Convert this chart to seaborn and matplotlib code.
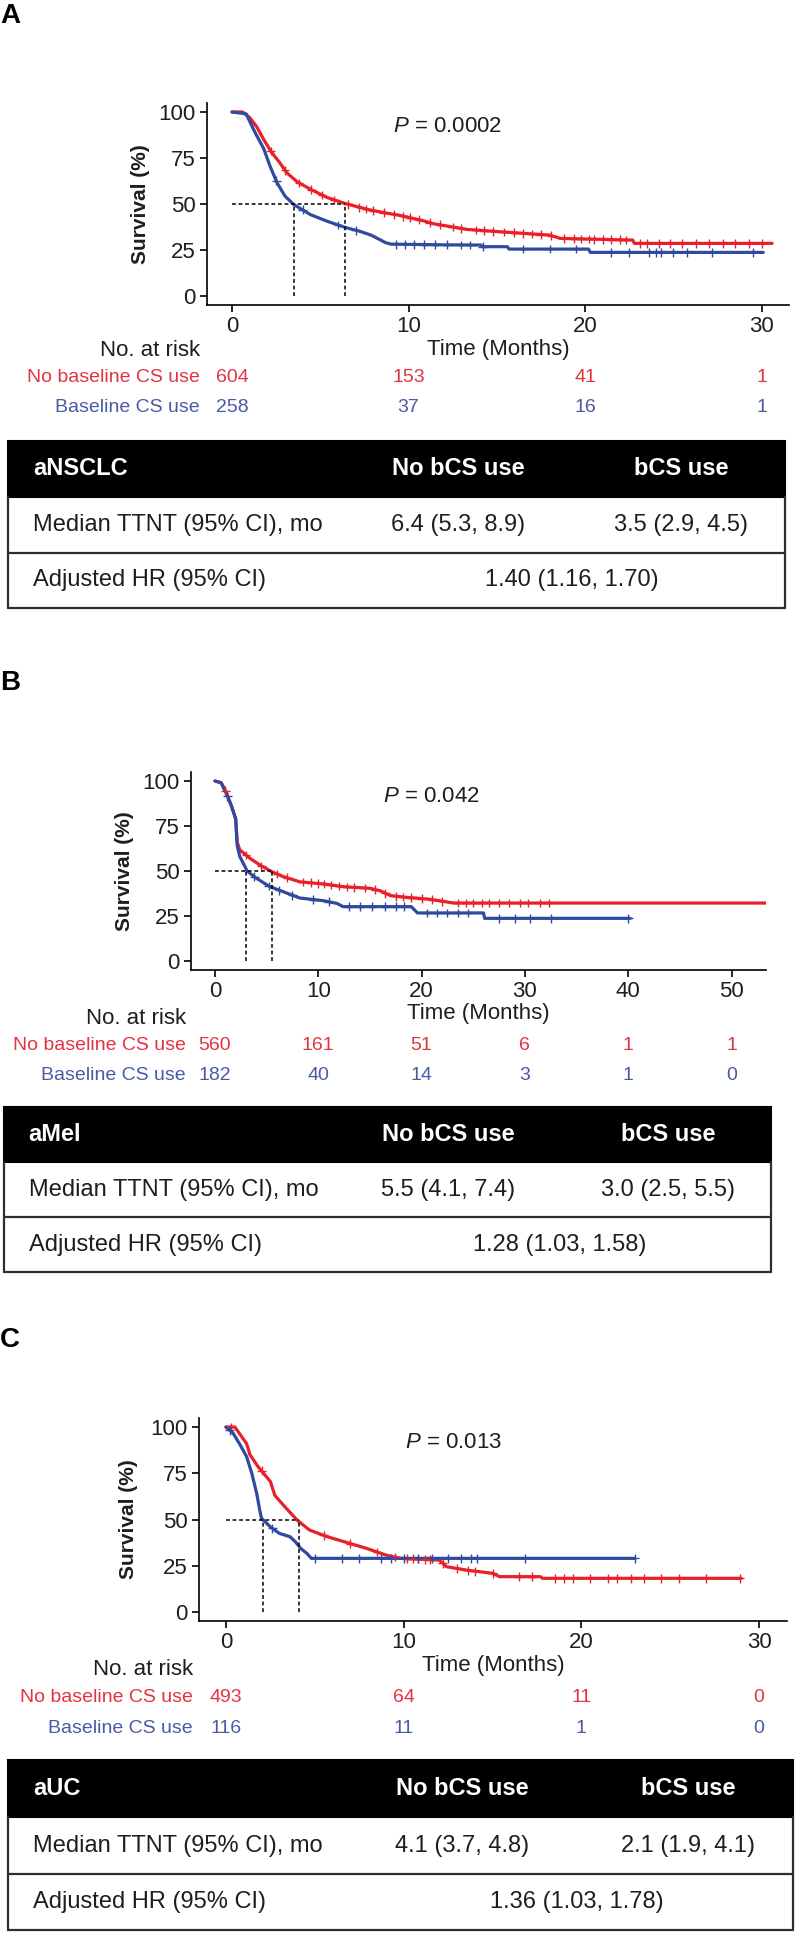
import numpy as np
import pandas as pd
import matplotlib
matplotlib.use("Agg")
import matplotlib.pyplot as plt
import matplotlib.transforms as mtransforms
from matplotlib.patches import Rectangle
import seaborn as sns

# ---------------- data ----------------
groups = ["No baseline CS use", "Baseline CS use"]

# Panel A - aNSCLC
a_red_t = [0, 0.6, 1.0, 1.4, 1.8, 2.25, 2.7, 3.1, 3.7, 4.45, 5.4, 6.4, 7.7, 8.8, 9.5,
           10.8, 11.4, 13.3, 15.2, 18.0, 18.6, 22.7, 22.8, 30.6]
a_red_s = [100, 100, 97, 92, 85, 78, 72.5, 67, 62, 58, 53.5, 50.3, 47, 45, 43.8,
           41, 39.3, 36.2, 34.9, 33.1, 31.3, 30.4, 28.6, 28.6]
a_blue_t = [0, 0.8, 1.3, 1.8, 2.15, 2.55, 3.0, 3.5, 4.45, 5.4, 6.4, 7.3, 7.9, 8.7, 9.0,
            12.0, 14.1, 14.2, 15.6, 15.7, 20.2, 20.3, 30.1]
a_blue_s = [100, 99, 89, 80, 70.7, 61.6, 54.3, 49.7, 44.2, 40.6, 37.3, 35, 33, 29, 28.2,
            27.8, 27.7, 26.8, 26.8, 25.5, 25.5, 23.7, 23.7]
a_red_cens = [2.2, 3.0, 3.8, 4.5, 5.1, 5.8, 6.6, 7.2, 7.6, 8.0, 8.6, 9.2, 9.7, 10.1, 10.6,
              11.2, 11.8, 12.5, 13.0, 13.8, 14.3, 14.8, 15.4, 16.0, 16.5, 17.0, 17.5, 18.1,
              18.8, 19.4, 19.8, 20.2, 20.5, 21.0, 21.5, 22.0, 22.3, 23.1, 23.5, 24.2, 24.8,
              25.5, 26.3, 27.0, 27.8, 28.5, 29.3, 30.0]
a_blue_cens = [2.5, 4.0, 6.0, 7.0, 9.3, 9.8, 10.3, 10.9, 11.5, 12.2, 13.0, 13.5, 14.2,
               16.5, 18.0, 19.5, 21.5, 22.5, 23.6, 24.0, 24.3, 25.0, 25.8, 27.2, 29.5]
a_median = [6.4, 3.5]
a_ticks = [0, 10, 20, 30]
a_risk_red = [604, 153, 41, 1]
a_risk_blue = [258, 37, 16, 1]
a_pval = "0.0002"

# Panel B - aMel
b_red_t = [0, 0.6, 1.1, 1.6, 2.0, 2.15, 2.4, 3.4, 4.35, 5.5, 6.6, 8.2, 10.5, 12.4, 15.0,
           16.0, 17.0, 18.5, 20.8, 23.1, 53.3]
b_red_s = [100, 99, 93.5, 86, 79, 66, 61.7, 57, 53.3, 49.6, 46.9, 44, 42.8, 41.3, 40.4,
           39, 36.3, 35.4, 34.3, 32.2, 32.2]
b_blue_t = [0, 0.6, 1.1, 1.6, 2.0, 2.15, 2.4, 2.9, 3.1, 4.0, 5.3, 6.6, 8.2, 10.5, 11.8,
            12.4, 19.0, 19.6, 26.0, 26.1, 40.2]
b_blue_s = [100, 99, 93, 86, 79, 64, 58, 52.5, 50, 46, 41.3, 38.5, 35, 33.5, 32,
            30.2, 30.2, 26.7, 26.7, 23.7, 23.7]
b_red_cens = [1.0, 3.0, 4.5, 6.0, 7.0, 8.5, 9.3, 10, 10.6, 11.2, 12, 12.8, 13.5, 14.5,
              15.5, 16.5, 17.5, 18.2, 19, 20, 21, 22, 23.5, 24.3, 25, 25.8, 26.5, 27.5,
              28.5, 29.5, 30.3, 31.5, 32.3]
b_blue_cens = [1.2, 3.8, 5.2, 6.2, 7.5, 9.5, 11, 13, 14, 15.2, 16.5, 17.5, 18.3, 20.5,
               21.5, 22.5, 23.5, 24.5, 27.5, 29, 30.5, 32.5, 40.0]
b_median = [5.5, 3.0]
b_ticks = [0, 10, 20, 30, 40, 50]
b_risk_red = [560, 161, 51, 6, 1, 1]
b_risk_blue = [182, 40, 14, 3, 1, 0]
b_pval = "0.042"

# Panel C - aUC
c_red_t = [0, 0.5, 1.16, 1.35, 1.8, 2.5, 2.75, 3.3, 4.0, 4.7, 5.7, 7.0, 7.9, 9.0, 9.8,
           12.0, 12.4, 13.5, 15.0, 15.4, 17.7, 17.8, 29.0]
c_red_s = [100, 100, 91, 85, 78.6, 70.5, 63, 57, 49.7, 44.3, 40.7, 37, 34.4, 30.8, 29,
           28.1, 24.5, 22.7, 20.9, 19.1, 19.1, 18.2, 18.2]
c_blue_t = [0, 0.4, 0.8, 1.16, 1.45, 1.73, 1.9, 2.0, 2.5, 3.0, 3.6, 3.9, 4.2, 4.55, 4.8, 23.0]
c_blue_s = [100, 96.6, 90.3, 84, 75, 64, 55, 50.6, 46, 42.5, 40.7, 38, 34.4, 31.7, 29, 29]
c_red_cens = [0.3, 2.0, 5.5, 7.0, 8.5, 9.5, 10.2, 10.5, 10.8, 11.2, 11.5, 12.2, 13.0, 13.6,
              14.0, 15.0, 16.5, 17.2, 18.5, 19.0, 19.5, 20.5, 21.5, 22.0, 22.8, 23.5, 24.5,
              25.5, 27.0, 28.9]
c_blue_cens = [0.2, 2.6, 5.0, 6.5, 7.5, 8.7, 9.3, 10.0, 10.8, 11.6, 12.5, 13.2, 13.8,
               14.1, 16.8, 23.0]
c_median = [4.1, 2.1]
c_ticks = [0, 10, 20, 30]
c_risk_red = [493, 64, 11, 0]
c_risk_blue = [116, 11, 1, 0]
c_pval = "0.013"

# summary tables
tab_names = ["aNSCLC", "aMel", "aUC"]
tab_no_bcs = ["6.4 (5.3, 8.9)", "5.5 (4.1, 7.4)", "4.1 (3.7, 4.8)"]
tab_bcs = ["3.5 (2.9, 4.5)", "3.0 (2.5, 5.5)", "2.1 (1.9, 4.1)"]
tab_hr = ["1.40 (1.16, 1.70)", "1.28 (1.03, 1.58)", "1.36 (1.03, 1.78)"]

RED = "#E8202A"
BLUE = "#2F4A9E"
RED_TXT = "#E23440"
BLUE_TXT = "#4A5AA6"
INK = "#1E1E1E"

sns.set_theme(style="ticks")
plt.rcParams["font.family"] = ["Liberation Sans", "DejaVu Sans"]
plt.rcParams["mathtext.fontset"] = "custom"
plt.rcParams["mathtext.it"] = "Liberation Sans:italic"
plt.rcParams["mathtext.rm"] = "Liberation Sans"

W, H = 800, 1935
fig = plt.figure(figsize=(W / 100, H / 100), dpi=100)


def ftext(px, py, s, **kw):
    return fig.text(px / W, 1 - py / H, s, **kw)


def km_panel(lay, red_t, red_s, blue_t, blue_s, red_c, blue_c, med, ticks,
             risk_red, risk_blue, pval, letter):
    x0, ppm, left, right, y0, ppp = lay["x0"], lay["ppm"], lay["left"], lay["right"], lay["y0"], lay["ppp"]
    top = y0 - 105 * ppp
    bottom = y0 + 5 * ppp
    ax = fig.add_axes([left / W, 1 - bottom / H, (right - left) / W, (bottom - top) / H])

    curves = pd.concat([
        pd.DataFrame({"time": red_t, "surv": red_s, "group": groups[0]}),
        pd.DataFrame({"time": blue_t, "surv": blue_s, "group": groups[1]}),
    ])
    sns.lineplot(data=curves, x="time", y="surv", hue="group", palette=[RED, BLUE],
                 estimator=None, sort=False, lw=2.3, legend=False, ax=ax)

    # censoring marks sit on the curves
    cens = pd.concat([
        pd.DataFrame({"time": red_c, "surv": np.interp(red_c, red_t, red_s), "group": groups[0]}),
        pd.DataFrame({"time": blue_c, "surv": np.interp(blue_c, blue_t, blue_s), "group": groups[1]}),
    ])
    sns.scatterplot(data=cens, x="time", y="surv", hue="group", palette=[RED, BLUE],
                    marker="+", s=40, linewidth=1.0, legend=False, ax=ax, zorder=3)

    # median lines
    ax.plot([0, max(med)], [50, 50], color="black", lw=1.1, ls=(0, (2.5, 1.8)), zorder=4)
    for m in med:
        ax.plot([m, m], [0, 50], color="black", lw=1.1, ls=(0, (2.5, 1.8)), zorder=4)

    ax.set_xlim((left - x0) / ppm, (right - x0) / ppm)
    ax.set_ylim(-5, 105)
    ax.set_xticks(ticks)
    ax.set_yticks([0, 25, 50, 75, 100])
    ax.set_xlabel("")
    ax.set_ylabel("")
    for side in ["top", "right"]:
        ax.spines[side].set_visible(False)
    for side in ["left", "bottom"]:
        ax.spines[side].set_linewidth(1.2)
        ax.spines[side].set_color("black")
    ax.tick_params(direction="out", length=5, width=1.2, color="black",
                   labelsize=16, labelcolor=INK, pad=3)

    ftext(lay["lab_x"], (top + bottom) / 2, "Survival (%)", rotation=90, ha="center",
          va="center", fontsize=15, fontweight="bold", color=INK)
    ftext((left + right) / 2, lay["xlab_y"], "Time (Months)", ha="center", va="center",
          fontsize=16, color=INK)
    ftext(lay["p_x"], lay["p_y"], r"$P$ = " + pval, ha="left", va="center",
          fontsize=16, color=INK)
    ftext(0, lay["let_y"], letter, ha="left", va="center", fontsize=20,
          fontweight="bold", color="black")

    # number at risk
    ftext(lay["risk_x"], lay["risk_y"][0], "No. at risk", ha="right", va="center",
          fontsize=16, color=INK)
    ftext(lay["risk_x"], lay["risk_y"][1], groups[0], ha="right", va="center",
          fontsize=14, color=RED_TXT)
    ftext(lay["risk_x"], lay["risk_y"][2], groups[1], ha="right", va="center",
          fontsize=14, color=BLUE_TXT)
    trans = mtransforms.blended_transform_factory(ax.transData, fig.transFigure)
    for t, nr, nb in zip(ticks, risk_red, risk_blue):
        ax.text(t, 1 - lay["risk_y"][1] / H, str(nr), transform=trans, ha="center",
                va="center", fontsize=14, color=RED_TXT, clip_on=False)
        ax.text(t, 1 - lay["risk_y"][2] / H, str(nb), transform=trans, ha="center",
                va="center", fontsize=14, color=BLUE_TXT, clip_on=False)
    return ax


def summary_table(x_l, x_r, ys, name, no_val, b_val, hr_val):
    tax = fig.add_axes([x_l / W, 1 - ys[3] / H, (x_r - x_l) / W, (ys[3] - ys[0]) / H])
    tax.set_xlim(0, 1)
    tax.set_ylim(ys[3], ys[0])
    tax.axis("off")
    tax.add_patch(Rectangle((0, ys[0]), 1, ys[1] - ys[0], facecolor="black",
                            edgecolor="black", lw=1.5, clip_on=False))
    lc = "#2E2E2E"
    tax.plot([0, 0], [ys[1], ys[3]], color=lc, lw=1.6, clip_on=False)
    tax.plot([1, 1], [ys[1], ys[3]], color=lc, lw=1.6, clip_on=False)
    tax.plot([0, 1], [ys[2], ys[2]], color=lc, lw=1.6, clip_on=False)
    tax.plot([0, 1], [ys[3], ys[3]], color=lc, lw=1.6, clip_on=False)
    cy = [(ys[0] + ys[1]) / 2, (ys[1] + ys[2]) / 2, (ys[2] + ys[3]) / 2]
    fs = 17
    tax.text(0.032, cy[0], name, ha="left", va="center", fontsize=fs, fontweight="bold", color="white")
    tax.text(0.579, cy[0], "No bCS use", ha="center", va="center", fontsize=fs, fontweight="bold", color="white")
    tax.text(0.866, cy[0], "bCS use", ha="center", va="center", fontsize=fs, fontweight="bold", color="white")
    tax.text(0.032, cy[1], "Median TTNT (95% CI), mo", ha="left", va="center", fontsize=fs, color=INK)
    tax.text(0.579, cy[1], no_val, ha="center", va="center", fontsize=fs, color=INK)
    tax.text(0.866, cy[1], b_val, ha="center", va="center", fontsize=fs, color=INK)
    tax.text(0.032, cy[2], "Adjusted HR (95% CI)", ha="left", va="center", fontsize=fs, color=INK)
    tax.text(0.725, cy[2], hr_val, ha="center", va="center", fontsize=fs, color=INK)


lay_a = dict(x0=232, ppm=17.65, left=207, right=789, y0=296, ppp=1.84, lab_x=140,
             xlab_y=349, p_x=393, p_y=127, let_y=16, risk_x=200, risk_y=[350, 378, 407])
lay_b = dict(x0=215, ppm=10.33, left=191, right=766, y0=961, ppp=1.80, lab_x=124,
             xlab_y=1013, p_x=383, p_y=797, let_y=683, risk_x=186, risk_y=[1018, 1045, 1075])
lay_c = dict(x0=226, ppm=17.77, left=199, right=787, y0=1612, ppp=1.85, lab_x=129,
             xlab_y=1665, p_x=405, p_y=1442, let_y=1340, risk_x=193, risk_y=[1669, 1698, 1728])

km_panel(lay_a, a_red_t, a_red_s, a_blue_t, a_blue_s, a_red_cens, a_blue_cens, a_median,
         a_ticks, a_risk_red, a_risk_blue, a_pval, "A")
km_panel(lay_b, b_red_t, b_red_s, b_blue_t, b_blue_s, b_red_cens, b_blue_cens, b_median,
         b_ticks, b_risk_red, b_risk_blue, b_pval, "B")
km_panel(lay_c, c_red_t, c_red_s, c_blue_t, c_blue_s, c_red_cens, c_blue_cens, c_median,
         c_ticks, c_risk_red, c_risk_blue, c_pval, "C")

summary_table(8, 785, [441, 497, 553, 608], tab_names[0], tab_no_bcs[0], tab_bcs[0], tab_hr[0])
summary_table(4, 771, [1107, 1162, 1217, 1272], tab_names[1], tab_no_bcs[1], tab_bcs[1], tab_hr[1])
summary_table(8, 793, [1760, 1817, 1874, 1930], tab_names[2], tab_no_bcs[2], tab_bcs[2], tab_hr[2])

fig.savefig("out.png", dpi=100, facecolor="white")
